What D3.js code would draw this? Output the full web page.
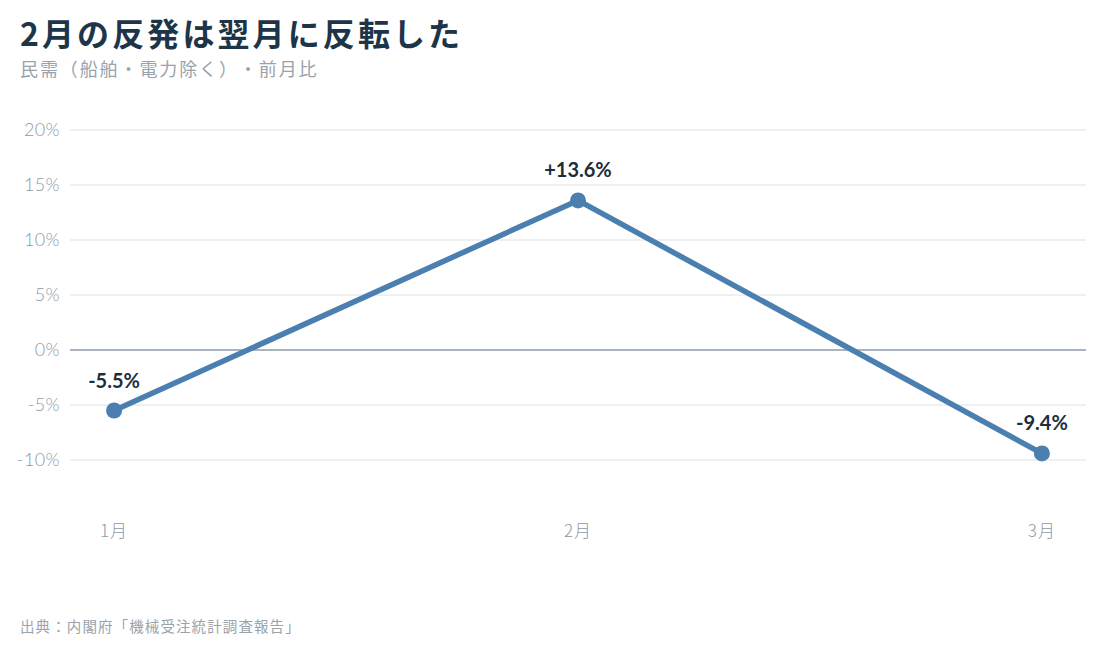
<!DOCTYPE html>
<html>
<head>
<meta charset="utf-8">
<script src="https://cdn.jsdelivr.net/npm/d3@7"></script>
<style>
  html, body { margin: 0; padding: 0; background: #fff; }
  svg { display: block; text-spacing-trim: space-all; }
</style>
</head>
<body>
<svg id="chart" width="1102" height="649"></svg>
<script>
// data
const months = ["1月", "2月", "3月"];
const values = [-5.5, 13.6, -9.4];
const labels = ["-5.5%", "+13.6%", "-9.4%"];
const yTicks = [20, 15, 10, 5, 0, -5, -10];

const width = 1102, height = 649;
const margin = { top: 130, right: 16, bottom: 134, left: 70 };
const jp = "'Noto Sans CJK JP', 'Noto Sans', sans-serif";
const num = "Lato, 'Noto Sans CJK JP', sans-serif";

const svg = d3.select("#chart");

const x = d3.scalePoint()
  .domain(months)
  .range([margin.left, width - margin.right])
  .padding(0.095);

const y = d3.scaleLinear()
  .domain([-15, 20])
  .range([height - margin.bottom, margin.top]);

// title + subtitle
svg.append("text")
  .attr("x", 20).attr("y", 46)
  .attr("font-family", jp).attr("font-weight", 700)
  .attr("font-size", 32).attr("letter-spacing", 3.1)
  .attr("fill", "#1d3549")
  .text("2月の反発は翌月に反転した");

svg.append("text")
  .attr("x", 20).attr("y", 76)
  .attr("font-family", jp).attr("font-size", 18)
  .attr("letter-spacing", 1.9)
  .attr("fill", "#9aa3ab")
  .text("民需（船舶・電力除く）・前月比");

// grid
svg.append("g")
  .selectAll("line")
  .data(yTicks)
  .join("line")
  .attr("x1", margin.left).attr("x2", width - margin.right)
  .attr("y1", d => y(d)).attr("y2", d => y(d))
  .attr("stroke", d => d === 0 ? "#8e9cab" : "#e8ebee")
  .attr("stroke-width", 1.5);

// y axis labels
svg.append("g")
  .selectAll("text")
  .data(yTicks)
  .join("text")
  .attr("x", 60).attr("y", d => y(d))
  .attr("dy", "0.35em")
  .attr("text-anchor", "end")
  .attr("font-family", num).attr("font-weight", 300)
  .attr("font-size", 18).attr("letter-spacing", 0.4)
  .attr("fill", "#8f99a3")
  .text(d => d + "%");

// x axis labels
svg.append("g")
  .selectAll("text")
  .data(months)
  .join("text")
  .attr("x", d => x(d)).attr("y", 537)
  .attr("text-anchor", "middle")
  .attr("font-family", jp).attr("font-weight", 300)
  .attr("font-size", 17).attr("letter-spacing", 1)
  .attr("fill", "#8f99a3")
  .text(d => d);

// line
const pts = months.map((m, i) => ({ m, v: values[i], label: labels[i] }));
const line = d3.line().x(d => x(d.m)).y(d => y(d.v));

svg.append("path")
  .datum(pts)
  .attr("d", line)
  .attr("fill", "none")
  .attr("stroke", "#4a7fb0")
  .attr("stroke-width", 5.5)
  .attr("stroke-linejoin", "round");

svg.append("g")
  .selectAll("circle")
  .data(pts)
  .join("circle")
  .attr("cx", d => x(d.m)).attr("cy", d => y(d.v))
  .attr("r", 8)
  .attr("fill", "#4a7fb0");

svg.append("g")
  .selectAll("text")
  .data(pts)
  .join("text")
  .attr("x", d => x(d.m)).attr("y", d => y(d.v) - 23)
  .attr("text-anchor", "middle")
  .attr("font-family", num).attr("font-weight", 700)
  .attr("font-size", 20)
  .attr("fill", "#1d2d3c")
  .text(d => d.label);

// source
svg.append("text")
  .attr("x", 20).attr("y", 632)
  .attr("font-family", jp).attr("font-size", 14.5)
  .attr("letter-spacing", 1.1)
  .attr("fill", "#9aa3ab")
  .text("出典：内閣府「機械受注統計調査報告」");
</script>
</body>
</html>
